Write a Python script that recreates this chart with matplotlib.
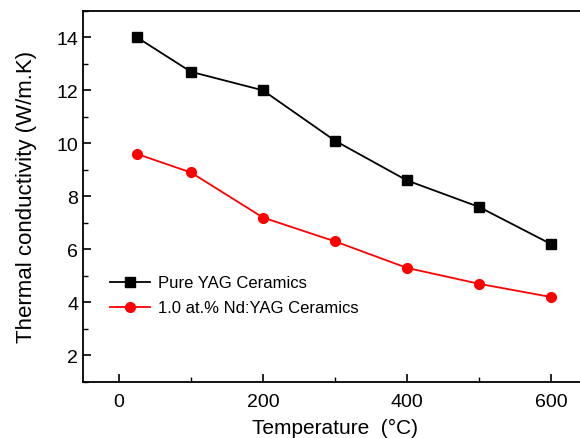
import numpy as np
import matplotlib
matplotlib.use('Agg')
from matplotlib import pyplot as plt
from matplotlib.ticker import MultipleLocator

plt.rcParams['font.family'] = ['Liberation Sans', 'DejaVu Sans']

# temperatures (C)
temperature = [25, 100, 200, 300, 400, 500, 600]
# thermal conductivity (W/m.K)
pure_yag = [14.0, 12.7, 12.0, 10.1, 8.6, 7.6, 6.2]
nd_yag = [9.6, 8.9, 7.2, 6.3, 5.3, 4.7, 4.2]

fig = plt.figure(figsize=(5.8, 4.39), dpi=100)
ax = fig.add_axes([0.143, 0.128, 0.869, 0.845])

ax.plot(temperature, pure_yag, color='k', marker='s', markersize=6.5, lw=1.3,
        label='Pure YAG Ceramics')
ax.plot(temperature, nd_yag, color='r', marker='o', markersize=7, lw=1.3,
        label='1.0 at.% Nd:YAG Ceramics')

ax.set_xlim(-50, 650)
ax.set_ylim(1, 15)
ax.xaxis.set_major_locator(MultipleLocator(200))
ax.xaxis.set_minor_locator(MultipleLocator(100))
ax.yaxis.set_major_locator(MultipleLocator(2))
ax.yaxis.set_minor_locator(MultipleLocator(1))
ax.tick_params(which='both', direction='in', labelsize=14)
ax.tick_params(axis='x', pad=8)
ax.tick_params(which='major', length=6, width=1.2)
ax.tick_params(which='minor', length=3.5, width=1.0)
for s in ax.spines.values():
    s.set_linewidth(1.3)

ax.set_xlabel('Temperature  (°C)', fontsize=15, labelpad=6)
ax.set_ylabel('Thermal conductivity (W/m.K)', fontsize=16, labelpad=14)

ax.legend(loc='upper left', bbox_to_anchor=(0.04, 0.305), frameon=False,
          fontsize=12, handlelength=2.4, handletextpad=0.5, labelspacing=0.6,
          borderaxespad=0)

fig.savefig('out.png', dpi=100)
